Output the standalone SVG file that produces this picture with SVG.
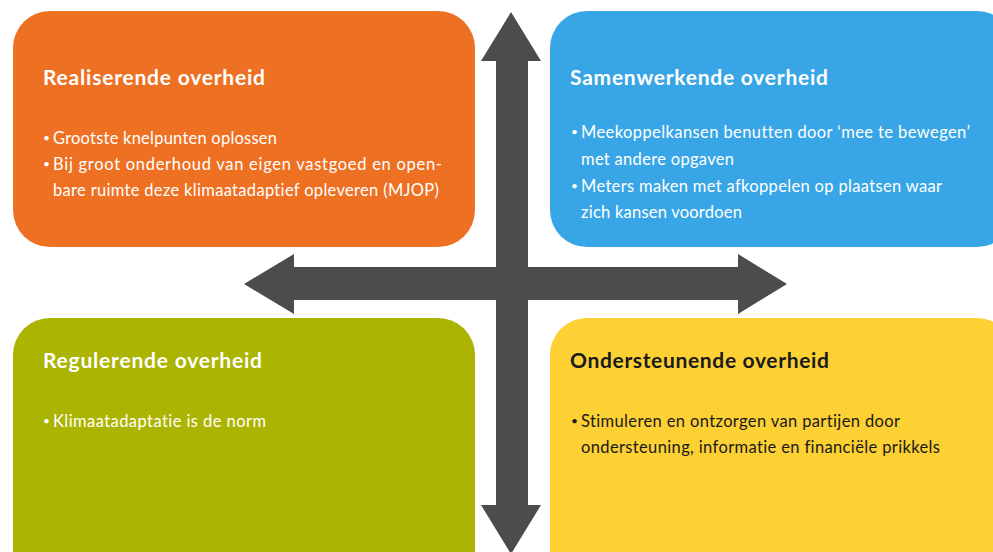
<svg xmlns="http://www.w3.org/2000/svg" width="993" height="552" viewBox="0 0 993 552">
<style>
text{font-variant-ligatures:none;font-feature-settings:"liga" 0,"clig" 0}
.title{font-family:Lato,"Open Sans","Liberation Sans",sans-serif;font-weight:700;font-size:21px}
.body{font-family:Lato,"Open Sans","Liberation Sans",sans-serif;font-size:16.5px}
.bul{font-family:Lato,"Open Sans","Liberation Sans",sans-serif;font-size:12px}
.w{fill:#ffffff}
.k{fill:#1a1a1a}
.arrow{fill:#4d4b4c}
</style>
<rect width="993" height="552" fill="#ffffff"/>
<g id="node-realiserend">
<rect x="13" y="11" width="462" height="236" rx="37" fill="#ee7022"/>
<text class="title w" x="43" y="85" textLength="222">Realiserende overheid</text>
<text class="bul w" x="43" y="142">•</text>
<text class="body w" x="53" y="144" textLength="224">Grootste knelpunten oplossen</text>
<text class="bul w" x="43" y="168">•</text>
<text class="body w" x="53" y="170" textLength="389">Bij groot onderhoud van eigen vastgoed en open-</text>
<text class="body w" x="53" y="196" textLength="386">bare ruimte deze klimaatadaptief opleveren (MJOP)</text>
</g>
<g id="node-samenwerkend">
<rect x="550" y="11" width="464" height="236" rx="37" fill="#38a6e6"/>
<text class="title w" x="570" y="85" textLength="258">Samenwerkende overheid</text>
<text class="bul w" x="571" y="136">•</text>
<text class="body w" x="581" y="138" textLength="389">Meekoppelkansen benutten door ‘mee te bewegen’</text>
<text class="body w" x="581" y="165" textLength="153">met andere opgaven</text>
<text class="bul w" x="571" y="190">•</text>
<text class="body w" x="581" y="192" textLength="361">Meters maken met afkoppelen op plaatsen waar</text>
<text class="body w" x="581" y="218" textLength="161">zich kansen voordoen</text>
</g>
<g id="node-regulerend">
<rect x="13" y="318" width="462" height="280" rx="37" fill="#abb400"/>
<text class="title w" x="43" y="368" textLength="219">Regulerende overheid</text>
<text class="bul w" x="43" y="425">•</text>
<text class="body w" x="53" y="427" textLength="213">Klimaatadaptatie is de norm</text>
</g>
<g id="node-ondersteunend">
<rect x="550" y="318" width="464" height="280" rx="37" fill="#fdd034"/>
<text class="title k" x="570" y="368" textLength="259">Ondersteunende overheid</text>
<text class="bul k" x="571" y="425">•</text>
<text class="body k" x="581" y="427" textLength="319">Stimuleren en ontzorgen van partijen door</text>
<text class="body k" x="581" y="453" textLength="359">ondersteuning, informatie en financiële prikkels</text>
</g>
<g id="connectors">
<polygon class="arrow" points="511,12 541,61 528,61 528,505 541,505 511,554 481,505 496,505 496,61 481,61"/>
<polygon class="arrow" points="244,284 294,254 294,267 738,267 738,254 787,284 738,314 738,300 294,300 294,314"/>
</g>
</svg>
